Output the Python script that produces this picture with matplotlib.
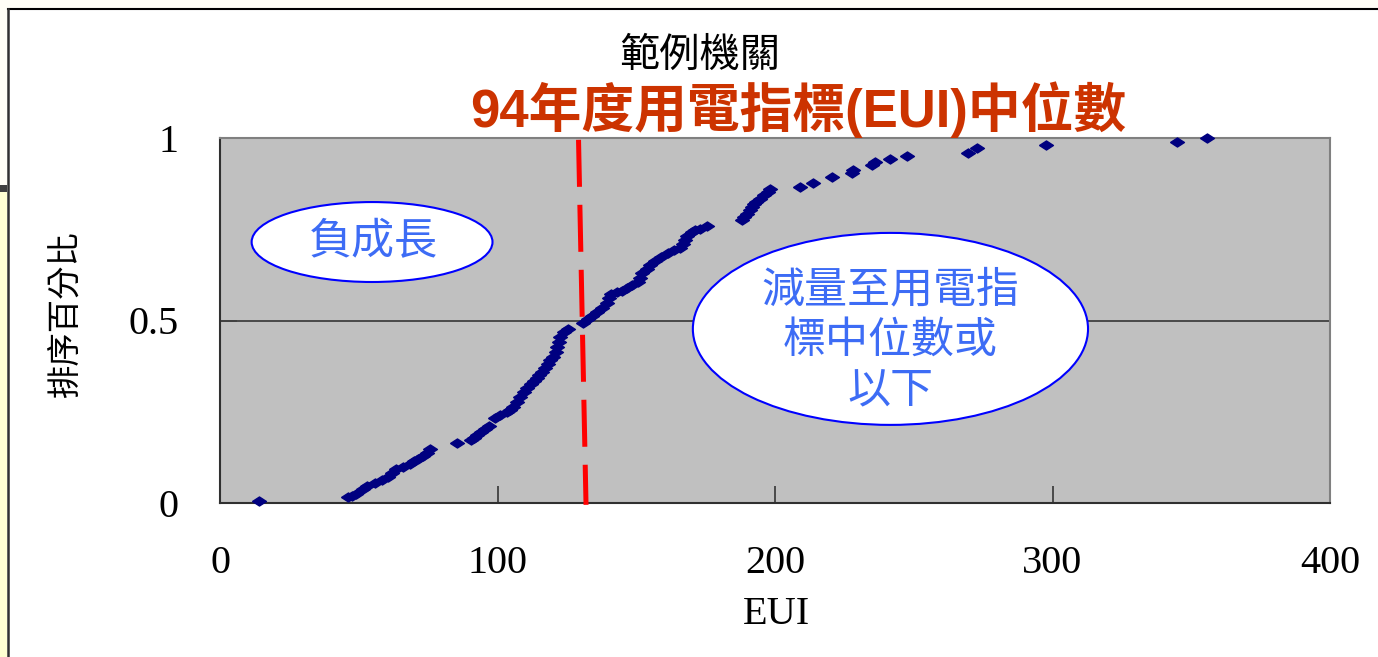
import numpy as np
import matplotlib as mpl
mpl.use('Agg')
import matplotlib.pyplot as plt
from matplotlib.patches import Ellipse, Rectangle
from matplotlib.lines import Line2D
from matplotlib.path import Path

# EUI of each sample building and its percentile rank
eui = [14, 46, 47.5, 49, 51.5, 53, 56, 58.5, 60.5, 62, 63.5, 66, 68.5, 70, 71.5,
       73, 74.5, 75.7, 85.4, 90.5, 91.5, 92.6, 94, 95.5, 97, 99, 101, 103.4,
       104.5, 105.6, 107, 108, 109.5, 110.6, 112, 113, 114.2, 115, 116, 117,
       118.2, 119, 120, 121, 121.5, 122, 122.5, 124, 125.4, 130.8, 132.6, 134,
       135.9, 137.5, 139.5, 140, 141, 143, 145, 146.7, 148.5, 150.6, 151.5, 152,
       153.8, 155, 156.8, 159, 161.4, 163.5, 165.8, 167, 167.6, 168.3, 170,
       171.2, 173, 175.5, 188.1, 189, 190, 191, 191.7, 192.5, 193, 194.6, 196,
       197.5, 198.2, 209, 213.7, 220.5, 227.7, 228.1, 235, 236, 241.4, 247.6,
       269.5, 272.8, 297.7, 344.9, 355.7]
rank = [0.005, 0.016, 0.02, 0.026, 0.038, 0.046, 0.055, 0.064, 0.071, 0.082,
        0.092, 0.1, 0.108, 0.114, 0.12, 0.128, 0.138, 0.148, 0.164, 0.172,
        0.178, 0.186, 0.194, 0.202, 0.212, 0.232, 0.24, 0.248, 0.256, 0.264,
        0.276, 0.29, 0.304, 0.316, 0.326, 0.334, 0.342, 0.35, 0.358, 0.37,
        0.382, 0.392, 0.4, 0.415, 0.428, 0.44, 0.455, 0.468, 0.478, 0.493,
        0.505, 0.512, 0.522, 0.535, 0.548, 0.562, 0.572, 0.578, 0.582, 0.59,
        0.598, 0.606, 0.616, 0.63, 0.642, 0.652, 0.664, 0.674, 0.684, 0.692,
        0.7, 0.71, 0.72, 0.732, 0.742, 0.748, 0.752, 0.758, 0.776, 0.784,
        0.792, 0.802, 0.81, 0.818, 0.824, 0.834, 0.844, 0.852, 0.86, 0.866,
        0.878, 0.892, 0.904, 0.912, 0.926, 0.934, 0.942, 0.95, 0.959, 0.972,
        0.981, 0.99, 1.0]

# hand-drawn median line (slightly slanted in the original)
median_x = [129.2, 131.9]
median_y = [0.995, -0.005]

xticks = [0, 100, 200, 300, 400]
yticks = [0, 0.5, 1]
ytick_labels = ['0', '0.5', '1']

serif = ['Liberation Serif', 'Noto Sans CJK TC']
cjk = ['Noto Sans CJK TC', 'DejaVu Sans']

fig = plt.figure(figsize=(13.78, 6.57), dpi=100, facecolor='#FFFEF6')

# slide frame
W, H = 1378.0, 657.0
fig.patches.append(Rectangle((8 / W, 0), 1 - 8 / W, (H - 9) / H, transform=fig.transFigure,
                             facecolor='white', edgecolor='none', zorder=-2))
fig.patches.append(Rectangle((0, 0), 7 / W, (H - 190) / H, transform=fig.transFigure,
                             facecolor='#FFFFD2', edgecolor='none', zorder=-2))
fig.patches.append(Rectangle((0, (H - 192) / H), 7 / W, 7 / H, transform=fig.transFigure,
                             facecolor='#404040', edgecolor='none', zorder=-1))
fig.lines.append(Line2D([8 / W, 1], [(H - 9) / H] * 2, transform=fig.transFigure,
                        color='black', lw=1.5, zorder=-1))
fig.lines.append(Line2D([8 / W] * 2, [0, (H - 9) / H], transform=fig.transFigure,
                        color='#303030', lw=1.8, zorder=-1))

ax = fig.add_axes([220 / W, (H - 503) / H, 1110 / W, 365 / H])
ax.set_facecolor('#C0C0C0')
ax.set_xlim(0, 400)
ax.set_ylim(0, 1)

for y in [0.5, 1.0]:
    ax.axhline(y, color='#404040', lw=1.3, zorder=1)

ax.plot(median_x, median_y, color='#FF0000', lw=3.6, dashes=(9.4, 3.6),
        clip_on=False, zorder=3)

diamond = Path([(-1, 0), (0, 0.65), (1, 0), (0, -0.65), (-1, 0)])
ax.plot(eui, rank, ls='none', marker=diamond, ms=10, color='#000080',
        mec='#000080', clip_on=False, zorder=4)

# callout ellipses
e1 = Ellipse((0.137, 0.715), 0.217, 0.219, transform=ax.transAxes,
             facecolor='white', edgecolor='#0000FF', lw=1.5, zorder=5)
ax.add_patch(e1)
ax.text(0.138, 0.715, '負成長', transform=ax.transAxes, ha='center', va='center',
        fontsize=31, color='#3D6CF5', family=cjk, zorder=6)

e2 = Ellipse((0.604, 0.477), 0.356, 0.526, transform=ax.transAxes,
             facecolor='white', edgecolor='#0000FF', lw=1.5, zorder=5)
ax.add_patch(e2)
ax.text(0.604, 0.444, '減量至用電指\n標中位數或\n以下', transform=ax.transAxes,
        ha='center', va='center', fontsize=31, color='#3D6CF5', family=cjk,
        linespacing=1.2, zorder=6)

# axes styling
ax.set_xticks(xticks)
ax.set_yticks(yticks)
ax.set_yticklabels(ytick_labels)
for lab in ax.get_xticklabels() + ax.get_yticklabels():
    lab.set_fontfamily(serif)
    lab.set_fontsize(29)
ax.tick_params(axis='x', direction='in', length=12, width=1.3, color='#404040', pad=30)
ax.tick_params(axis='y', direction='in', length=12, width=1.3, color='#404040', pad=30)
ax.spines['left'].set_color('#303030')
ax.spines['bottom'].set_color('#303030')
ax.spines['top'].set_color('#808080')
ax.spines['right'].set_color('#808080')
for s in ax.spines.values():
    s.set_linewidth(1.5)

fig.text(776 / W, 1 - 615 / H, 'EUI', ha='center', va='center',
         fontsize=29, family=serif)
fig.text(65 / W, 1 - 315 / H, '排序百分比', ha='center', va='center',
         rotation=90, fontsize=24, family=cjk)

fig.text(700 / W, 1 - 55 / H, '範例機關', ha='center', va='center',
         fontsize=29, family=cjk)
fig.text(798 / W, 1 - 110 / H, '94年度用電指標(EUI)中位數', ha='center', va='center',
         fontsize=38, fontweight='bold', color='#CC3300',
         family=['Liberation Sans', 'Noto Sans CJK TC'])

fig.savefig('out.png', dpi=100, facecolor=fig.get_facecolor())
plt.close(fig)
